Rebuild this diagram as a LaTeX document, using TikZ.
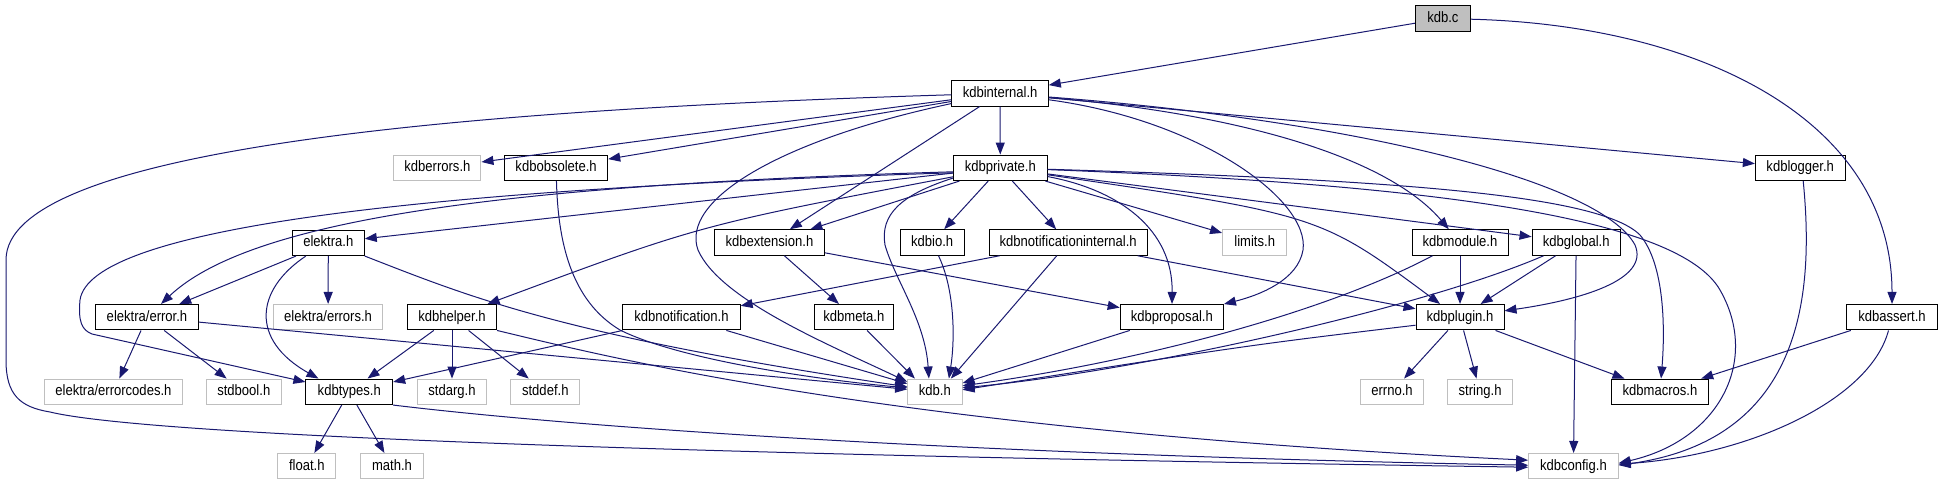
\documentclass[tikz,border=0pt]{standalone}
\usepackage{fontspec}
\setmainfont{Liberation Sans}
\newfontfamily\nodefont[FakeStretch=0.87]{Liberation Sans}
\usetikzlibrary{arrows.meta}
\definecolor{edgecol}{HTML}{191970}
\definecolor{grayborder}{HTML}{BFBFBF}
\definecolor{grayfill}{HTML}{BFBFBF}
\tikzset{
  box/.style={draw=black, fill=white, line width=1pt, minimum height=25.5pt,
    inner xsep=2pt, inner ysep=0pt, text height=10.8pt, text depth=3pt,
    font=\nodefont\fontsize{15}{17}\selectfont},
  sysbox/.style={box, draw=grayborder},
  curbox/.style={box, fill=grayfill},
  edge/.style={draw=edgecol, line width=1pt, -{Triangle[length=12pt,width=9pt]}}
}
\begin{document}
\begin{tikzpicture}[x=1pt,y=-1pt]
\fill[white] (0,0) rectangle (1943,485);
\useasboundingbox (0,0) rectangle (1943,485);
% nodes
\node[curbox, minimum width=54.9pt]  (kdbc)        at (1442.9,18.5)  {kdb.c};
\node[box,    minimum width=96.4pt]  (kdbinternal) at (1000.1,93.3)  {kdbinternal.h};
\node[box,    minimum width=93.5pt]  (kdbprivate)  at (1000.3,167.8) {kdbprivate.h};
\node[sysbox, minimum width=87.1pt]  (kdberrors)   at (437.4,167.8)  {kdberrors.h};
\node[box,    minimum width=103.2pt] (kdbobsolete) at (556.1,167.8)  {kdbobsolete.h};
\node[box,    minimum width=89.7pt]  (kdblogger)   at (1800.2,167.8) {kdblogger.h};
\node[box,    minimum width=71.9pt]  (elektra)     at (328.3,242.8)  {elektra.h};
\node[box,    minimum width=110.4pt] (kdbextension) at (769.4,242.5) {kdbextension.h};
\node[box,    minimum width=64pt]    (kdbio)       at (932.1,242.5)  {kdbio.h};
\node[box,    minimum width=158.4pt] (kdbnotifint) at (1068.2,242.5) {kdbnotificationinternal.h};
\node[sysbox, minimum width=64.2pt]  (limits)      at (1254.7,242.5) {limits.h};
\node[box,    minimum width=96pt]    (kdbmodule)   at (1460,242.5)   {kdbmodule.h};
\node[box,    minimum width=88.3pt]  (kdbglobal)   at (1576.2,242.5) {kdbglobal.h};
\node[box,    minimum width=103pt]   (errorh)      at (147,317.2)    {elektra/error.h};
\node[sysbox, minimum width=109.2pt] (errorsh)     at (328.1,317.2)  {elektra/errors.h};
\node[box,    minimum width=89.1pt]  (kdbhelper)   at (452,317.2)    {kdbhelper.h};
\node[box,    minimum width=117.4pt] (kdbnotif)    at (681.4,317.2)  {kdbnotification.h};
\node[box,    minimum width=78.3pt]  (kdbmeta)     at (853.9,317.2)  {kdbmeta.h};
\node[box,    minimum width=103.2pt] (kdbproposal) at (1171.8,317.2) {kdbproposal.h};
\node[box,    minimum width=88pt]    (kdbplugin)   at (1460,317.2)   {kdbplugin.h};
\node[box,    minimum width=91.1pt]  (kdbassert)   at (1892,317.2)   {kdbassert.h};
\node[sysbox, minimum width=137.2pt] (errorcodes)  at (113.4,391.8)  {elektra/errorcodes.h};
\node[sysbox, minimum width=74.7pt]  (stdbool)     at (243.8,391.8)  {stdbool.h};
\node[box,    minimum width=86.7pt]  (kdbtypes)    at (349.3,391.8)  {kdbtypes.h};
\node[sysbox, minimum width=69.3pt]  (stdarg)      at (452,391.8)    {stdarg.h};
\node[sysbox, minimum width=69.3pt]  (stddef)      at (545.3,391.8)  {stddef.h};
\node[sysbox, minimum width=54.3pt]  (kdbh)        at (934.9,391.8)  {kdb.h};
\node[sysbox, minimum width=62.5pt]  (errno)       at (1392,391.8)   {errno.h};
\node[sysbox, minimum width=65.4pt]  (stringh)     at (1480.1,391.8) {string.h};
\node[box,    minimum width=97pt]    (kdbmacros)   at (1660,391.8)   {kdbmacros.h};
\node[sysbox, minimum width=58.1pt]  (floath)      at (306.8,466.2)  {float.h};
\node[sysbox, minimum width=62.5pt]  (mathh)       at (392,466.2)    {math.h};
\node[sysbox, minimum width=89.6pt]  (kdbconfig)   at (1573.4,466.2) {kdbconfig.h};
% edges from kdb.c
\draw[edge] (kdbc) -- (kdbinternal);
\draw[edge] (kdbc) .. controls (1700,25) and (1892,120) .. (kdbassert);
% edges from kdbinternal.h
\draw[edge] (kdbinternal) -- (kdbprivate);
\draw[edge] (kdbinternal) -- (kdberrors);
\draw[edge] (kdbinternal) -- (kdbobsolete);
\draw[edge] (kdbinternal) .. controls (450,110) and (6,150) .. (6,260) -- (6,360)
  .. controls (6,395) and (20,407) .. (50,412)
  .. controls (150,436) and (700,455) .. ([yshift=-1pt]kdbconfig.west);
\draw[edge] (kdbinternal) -- (kdbextension);
\draw[edge] ([yshift=3pt]kdbinternal.south west) .. controls (780,140) and (680,200) .. (698,250)
  .. controls (720,300) and (830,345) .. ([yshift=10pt]kdbh.west);
\draw[edge] (kdbinternal) .. controls (1200,120) and (1310,200) .. (1303,250)
  .. controls (1298,280) and (1260,295) .. (kdbproposal);
\draw[edge] (kdbinternal) .. controls (1250,115) and (1390,160) .. (kdbmodule);
\draw[edge] (kdbinternal) -- (kdblogger);
\draw[edge] (kdbinternal) .. controls (1350,120) and (1600,180) .. (1635,245)
  .. controls (1650,280) and (1580,300) .. (kdbplugin);
% edges from kdbprivate.h
\draw[edge] (kdbprivate) -- (elektra);
\draw[edge] ([yshift=-4pt]kdbprivate.west) .. controls (500,185) and (250,220) .. (errorh);
\draw[edge] ([yshift=-5pt]kdbprivate.west) .. controls (400,190) and (90,230) .. (80,300)
  .. controls (78,322) and (82,330) .. (92,334) -- (kdbtypes);
\draw[edge] (kdbprivate) .. controls (700,225) .. (kdbhelper);
\draw[edge] (kdbprivate) -- (kdbextension);
\draw[edge] ([yshift=3pt]kdbprivate.south west) .. controls (900,195) and (880,215) .. (885,245)
  .. controls (895,280) and (925,320) .. ([xshift=-6pt]kdbh.north);
\draw[edge] (kdbprivate) -- (kdbio);
\draw[edge] (kdbprivate) -- (kdbnotifint);
\draw[edge] (kdbprivate) -- (limits);
\draw[edge] (kdbprivate) .. controls (1120,190) and (1173,230) .. (kdbproposal);
\draw[edge] (kdbprivate) .. controls (1320,215) .. ([xshift=-20pt]kdbplugin.north);
\draw[edge] (kdbprivate) -- (kdbglobal);
\draw[edge] (kdbprivate) .. controls (1400,180) and (1600,195) .. (1640,235)
  .. controls (1665,265) and (1665,330) .. (kdbmacros);
\draw[edge] (kdbprivate) .. controls (1450,185) and (1680,220) .. (1720,290)
  .. controls (1760,360) and (1720,440) .. ([yshift=3pt]kdbconfig.east);
% edges from elektra.h
\draw[edge] (elektra) -- (errorh);
\draw[edge] (elektra) -- (errorsh);
\draw[edge] ([xshift=14pt]elektra.south west) .. controls (255,290) and (250,340) .. ([xshift=13pt]kdbtypes.north west);
\draw[edge] (elektra.south east) .. controls (470,297) and (560,335) .. ([yshift=5pt]kdbh.west);
% kdbobsolete.h
\draw[edge] (kdbobsolete) .. controls (558,240) and (570,300) .. (620,330)
  .. controls (680,360) and (820,380) .. ([yshift=4pt]kdbh.west);
% elektra/error.h
\draw[edge] (errorh) -- (errorcodes);
\draw[edge] (errorh) -- (stdbool);
\draw[edge] (errorh) -- ([yshift=2.5pt]kdbh.west);
% kdbhelper.h
\draw[edge] (kdbhelper) -- (kdbtypes);
\draw[edge] (kdbhelper) -- (stdarg);
\draw[edge] (kdbhelper) -- (stddef);
\draw[edge] (kdbhelper.south east) .. controls (620,360) and (900,430) .. ([yshift=6pt]kdbconfig.west);
% kdbnotification*.h
\draw[edge] (kdbnotif) -- (kdbtypes);
\draw[edge] (kdbnotif) -- (kdbh);
\draw[edge] (kdbnotifint) -- (kdbnotif);
\draw[edge] (kdbnotifint) -- ([xshift=16pt]kdbh.north);
\draw[edge] (kdbnotifint) -- (kdbplugin);
% kdbextension.h, kdbmeta.h, kdbio.h, kdbproposal.h
\draw[edge] (kdbextension) -- (kdbmeta);
\draw[edge] (kdbextension) -- (kdbproposal);
\draw[edge] (kdbmeta) -- ([xshift=-20pt]kdbh.north);
\draw[edge] (kdbio) .. controls (955,290) and (955,340) .. ([xshift=14pt]kdbh.north);
\draw[edge] (kdbproposal) -- (kdbh);
% kdbmodule.h, kdbglobal.h
\draw[edge] (kdbmodule) -- (kdbplugin);
\draw[edge] ([xshift=21pt]kdbmodule.south west) .. controls (1330,310) and (1150,360) .. ([yshift=6pt]kdbh.east);
\draw[edge] (kdbglobal) -- (kdbplugin);
\draw[edge] (kdbglobal) -- (kdbconfig);
\draw[edge] ([xshift=12pt]kdbglobal.south west) .. controls (1430,305) and (1150,370) .. ([yshift=4pt]kdbh.east);
% kdbplugin.h
\draw[edge] ([yshift=-8pt]kdbplugin.west) .. controls (1250,345) .. ([yshift=2pt]kdbh.east);
\draw[edge] (kdbplugin) -- (errno);
\draw[edge] (kdbplugin) -- (stringh);
\draw[edge] (kdbplugin) -- (kdbmacros);
% kdbassert.h, kdblogger.h
\draw[edge] (kdbassert) -- (kdbmacros);
\draw[edge] (kdbassert) .. controls (1870,400) and (1750,455) .. ([yshift=2pt]kdbconfig.east);
\draw[edge] ([xshift=3pt]kdblogger.south) .. controls (1815,300) and (1800,440) .. ([yshift=1pt]kdbconfig.east);
% kdbtypes.h
\draw[edge] (kdbtypes) -- (floath);
\draw[edge] (kdbtypes) -- (mathh);
\draw[edge] (kdbtypes.south east) .. controls (600,430) and (1000,455) .. ([yshift=1pt]kdbconfig.west);
\end{tikzpicture}
\end{document}
